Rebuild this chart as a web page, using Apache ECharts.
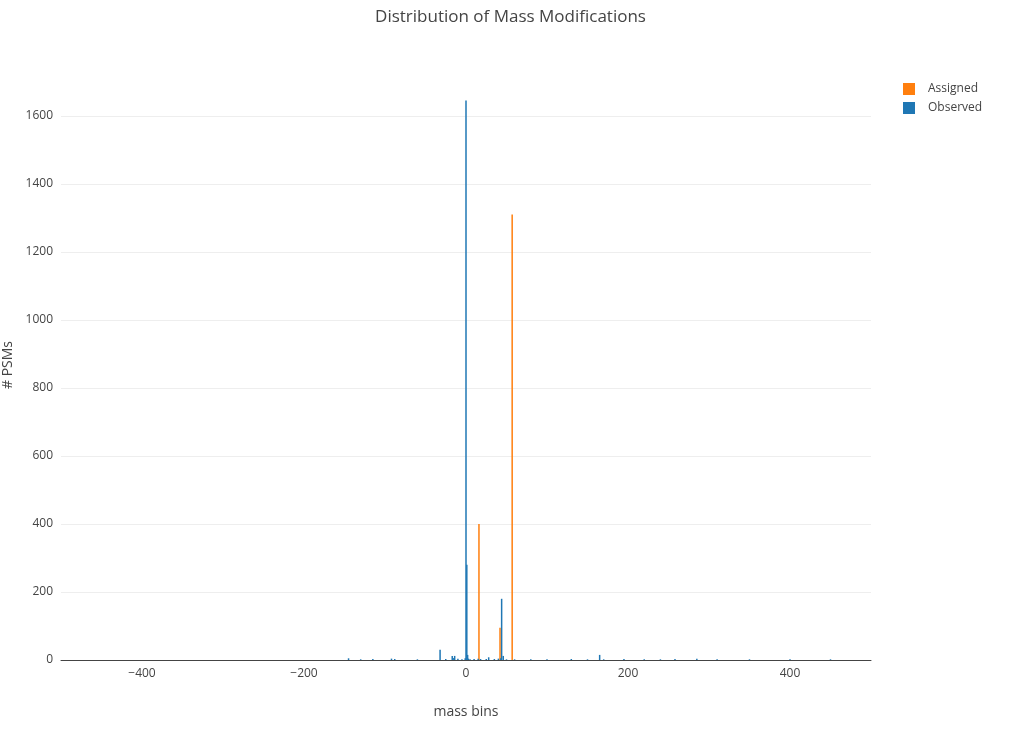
<!DOCTYPE html><html><head><meta charset="utf-8"><script src="https://cdn.jsdelivr.net/npm/echarts@6/dist/echarts.min.js"></script></head><body style="margin:0"><div id="c" style="width:1021px;height:730px"></div><script>
const observedX = [-145,-130,-115,-92,-88,-60,-32,-25,-17,-15,-14,-10,-5,-1,0,1,2,3,5,10,15,18,25,28,35,40,43,44,46,50,60,80,100,130,150,165,170,195,220,240,258,285,310,350,400,450];
const observedY = [5,2,3,4,3,2,30,3,12,6,12,4,2,5,1645,280,15,4,2,3,4,3,3,8,3,4,5,180,12,2,2,2,2,3,2,15,2,3,2,2,3,4,2,2,2,2];
const assignedX = [16,42,57];
const assignedY = [400,95,1310];
const zip=(a,b)=>a.map((v,i)=>[v,b[i]]);
const ch=echarts.init(document.getElementById('c'));
ch.setOption({
 title:{text:'Distribution of Mass Modifications',left:'center',top:4,textStyle:{fontFamily:'Open Sans',fontSize:17,fontWeight:'normal',color:'#444'}},
 legend:{orient:'vertical',left:898,top:78,itemWidth:12,itemHeight:12,itemGap:7,icon:'rect',textStyle:{fontFamily:'Open Sans',fontSize:12,color:'#444',padding:[0,0,0,8]},data:['Assigned','Observed']},
 grid:{left:61,right:150,top:70,bottom:70,outerBoundsMode:'none'},
 xAxis:{type:'value',min:-500,max:500,name:'mass bins',nameLocation:'middle',nameGap:45,nameTextStyle:{fontFamily:'Open Sans',fontSize:14,color:'#444'},
  axisLabel:{fontFamily:'Open Sans',fontSize:12,color:'#444',formatter:v=>(v<0?'\u2212'+(-v):String(v)),customValues:[-400,-200,0,200,400]},axisTick:{show:false},splitLine:{show:false},axisLine:{onZero:false,lineStyle:{color:'#444'}}},
 yAxis:{type:'value',min:0,max:1735,interval:200,name:'# PSMs',nameLocation:'middle',nameGap:36,nameTextStyle:{fontFamily:'Open Sans',fontSize:14,color:'#444'},
  axisLabel:{fontFamily:'Open Sans',fontSize:12,color:'#444',formatter:v=>String(v),showMaxLabel:false},
  splitLine:{showMaxLine:false,lineStyle:{color:'#eee'}},axisLine:{show:false},axisTick:{show:false}},
 series:[
  {name:'Assigned',type:'bar',data:zip(assignedX,assignedY),barWidth:1.5,barGap:'-100%',itemStyle:{color:'#ff7f0e'}},
  {name:'Observed',type:'bar',data:zip(observedX,observedY),barWidth:1.5,itemStyle:{color:'#1f77b4'}}
 ]
});
</script></body></html>
